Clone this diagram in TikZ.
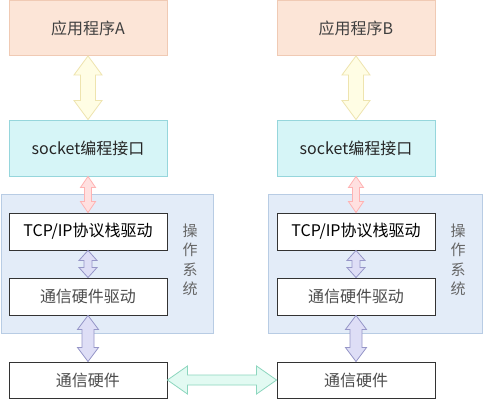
\documentclass[tikz,border=0pt]{standalone}
\usepackage{fontspec}
\setmainfont{Noto Sans CJK SC}
\usetikzlibrary{calc}
\definecolor{appfill}{RGB}{252,229,215}
\definecolor{appline}{RGB}{240,202,180}
\definecolor{sockfill}{RGB}{214,245,247}
\definecolor{sockline}{RGB}{150,214,220}
\definecolor{osfill}{RGB}{227,236,248}
\definecolor{osline}{RGB}{184,204,228}
\definecolor{yelfill}{RGB}{255,253,228}
\definecolor{yelline}{RGB}{238,228,175}
\definecolor{prpfill}{RGB}{222,222,246}
\definecolor{prpline}{RGB}{150,150,200}
\definecolor{grnfill}{RGB}{226,250,242}
\definecolor{grnline}{RGB}{140,214,190}
% fat double arrow: style, from, to, shaft half width, head half width, head length
\newcommand{\fatarrow}[6]{%
  \filldraw[#1] (#2) -- ($(#2)!#6!(#3)!#5!90:(#3)$) -- ($(#2)!#6!(#3)!#4!90:(#3)$)
    -- ($(#3)!#6!(#2)!#4!-90:(#2)$) -- ($(#3)!#6!(#2)!#5!-90:(#2)$) -- (#3)
    -- ($(#3)!#6!(#2)!#5!90:(#2)$) -- ($(#3)!#6!(#2)!#4!90:(#2)$)
    -- ($(#2)!#6!(#3)!#4!-90:(#3)$) -- ($(#2)!#6!(#3)!#5!-90:(#3)$) -- cycle;}

\begin{document}
\begin{tikzpicture}[x=1pt,y=-1pt,
    box/.style={draw,line width=0.9pt,minimum width=158pt,inner sep=0pt,
      font=\fontsize{16}{18}\selectfont},
    app/.style={box,fill=appfill,draw=appline,text=black!75,minimum height=55pt},
    sock/.style={box,fill=sockfill,draw=sockline,text=black!85,minimum height=56pt},
    drv/.style={box,fill=white,draw=black!80,minimum height=37pt},
    os/.style={draw=osline,fill=osfill,line width=0.9pt},
    ostxt/.style={align=center,text=black!60,font=\fontsize{15}{19.5}\selectfont},
    yel/.style={fill=yelfill,draw=yelline,line width=0.8pt},
    pnk/.style={fill=red!12,draw=red!30,line width=0.8pt},
    prp/.style={fill=prpfill,draw=prpline,line width=0.8pt},
    grn/.style={fill=grnfill,draw=grnline,line width=0.8pt} ]
  \useasboundingbox (0,0) rectangle (483,400);
  \fill[white] (0,0) rectangle (483,400);
  % operating system frames
  \draw[os] (1,194) rectangle (213,333);
  \draw[os] (268,194) rectangle (482,333);
  \node[ostxt] (OsA) at (190,260) {操\\作\\系\\统};
  \node[ostxt] (OsB) at (458,260) {操\\作\\系\\统};
  % left host
  \node[app] (AppA) at (88,28) {应用程序A};
  \node[sock] (SockA) at (88,148) {socket编程接口};
  \node[drv] (TcpA) at (88,231.5) {TCP/IP协议栈驱动};
  \node[drv,text=black!70] (DrvA) at (88,296.5) {通信硬件驱动};
  \node[drv,minimum height=36pt,text=black!70] (HwA) at (88,380) {通信硬件};
  % right host
  \node[app] (AppB) at (356,28) {应用程序B};
  \node[sock] (SockB) at (356,148) {socket编程接口};
  \node[drv] (TcpB) at (356,231.5) {TCP/IP协议栈驱动};
  \node[drv,text=black!70] (DrvB) at (356,296.5) {通信硬件驱动};
  \node[drv,minimum height=36pt,text=black!70] (HwB) at (356,380) {通信硬件};
  % arrows
  \fatarrow{yel}{AppA.south}{SockA.north}{7.5pt}{14pt}{19pt}
  \fatarrow{yel}{AppB.south}{SockB.north}{7.5pt}{14pt}{19pt}
  \fatarrow{pnk}{SockA.south}{TcpA.north}{3.5pt}{7.5pt}{11pt}
  \fatarrow{pnk}{SockB.south}{TcpB.north}{3.5pt}{7.5pt}{11pt}
  \fatarrow{prp}{TcpA.south}{DrvA.north}{4pt}{9pt}{10pt}
  \fatarrow{prp}{TcpB.south}{DrvB.north}{4pt}{9pt}{10pt}
  \fatarrow{prp}{DrvA.south}{HwA.north}{6pt}{10.5pt}{14pt}
  \fatarrow{prp}{DrvB.south}{HwB.north}{6pt}{10.5pt}{14pt}
  \fatarrow{grn}{HwA.east}{HwB.west}{5pt}{14pt}{20pt}
\end{tikzpicture}
\end{document}
